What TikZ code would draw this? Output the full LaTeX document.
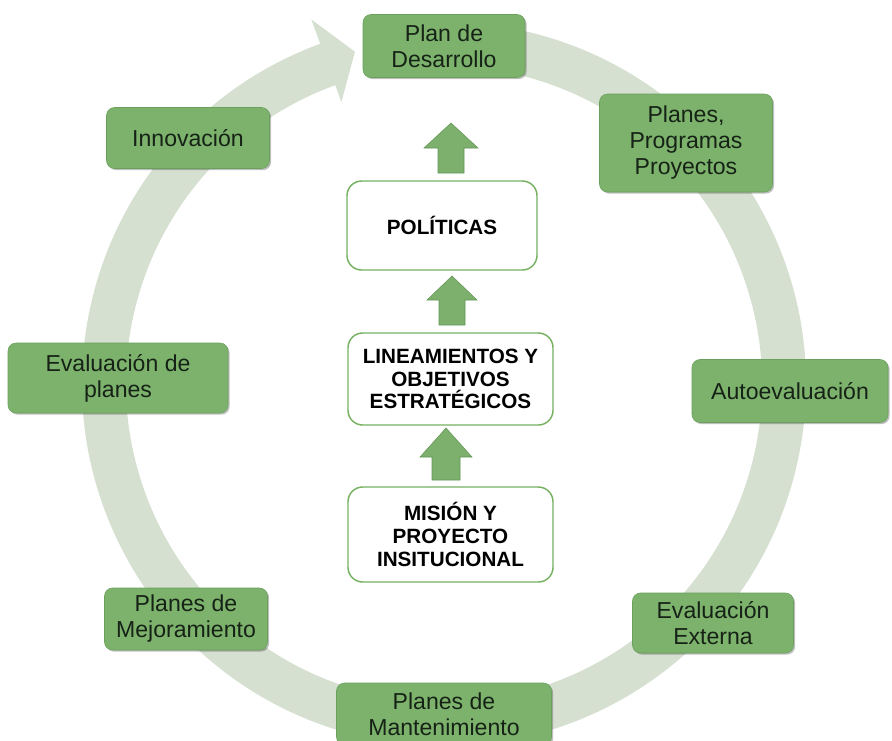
\documentclass[tikz,border=0pt]{standalone}
\usepackage{fontspec}
\setmainfont{Liberation Sans}
\usetikzlibrary{shadows}
\definecolor{boxgreen}{RGB}{124,178,108}
\definecolor{boxedge}{RGB}{106,160,92}
\definecolor{txtdark}{RGB}{22,34,22}
\definecolor{bandcol}{RGB}{214,224,209}
\definecolor{whiteedge}{RGB}{118,178,98}
\definecolor{arrowgreen}{RGB}{124,176,108}
\definecolor{arrowedge}{RGB}{100,150,88}
\begin{document}
\begin{tikzpicture}[x=0.75pt,y=-0.75pt,
  gbox/.style={draw=boxedge, line width=0.4pt, fill=boxgreen, rounded corners=6pt,
    inner sep=0pt, align=center, text=txtdark,
    font=\fontsize{17.3}{19.5}\selectfont,
    drop shadow={shadow xshift=1.2pt, shadow yshift=-1.2pt, opacity=0.25, fill=black}},
  wbox/.style={draw=whiteedge, line width=1.1pt, fill=white, rounded corners=11pt,
    inner sep=0pt, align=center, text=black,
    font=\fontsize{15.5}{17}\selectfont\bfseries},
  blockarrow/.style={fill=arrowgreen, draw=arrowedge, line width=0.4pt}
]
\useasboundingbox (0,0) rectangle (892,740);

% circular band arrow
\begin{scope}[shift={(444,384)}, x=0.75pt, y=0.75pt]
  \fill[bandcol] (78:362) arc[start angle=78, end angle=-250, radius=362]
    -- (-250:388) -- (-255:344) -- (-250:300) -- (-250:318)
    arc[start angle=-250, end angle=78, radius=318] -- cycle;
\end{scope}

% outer green boxes
\node[gbox, minimum width=121.5pt, minimum height=47.25pt] (pd) at (444,46) {Plan de\\Desarrollo};
\node[gbox, minimum width=129.75pt, minimum height=73.5pt] (ppp) at (686,143) {Planes,\\Programas\\Proyectos};
\node[gbox, minimum width=147pt, minimum height=47.25pt] (auto) at (790,391) {Autoevaluación};
\node[gbox, minimum width=120.75pt, minimum height=45pt] (ext) at (713,623) {Evaluación\\Externa};
\node[gbox, minimum width=161.25pt, minimum height=46.5pt] (mant) at (444,714) {Planes de\\Mantenimiento};
\node[gbox, minimum width=122.25pt, minimum height=46.5pt] (mej) at (186,619) {Planes de\\Mejoramiento};
\node[gbox, minimum width=165pt, minimum height=52.5pt] (evp) at (118,378) {Evaluación de\\planes};
\node[gbox, minimum width=122.25pt, minimum height=45.75pt] (inn) at (188,138) {Innovación};

% central white boxes
\node[wbox, minimum width=142.5pt, minimum height=66.75pt] (pol) at (442,225.5) {POLÍTICAS};
\node[wbox, minimum width=153.75pt, minimum height=69pt] (lin) at (450.5,379) {LINEAMIENTOS Y\\OBJETIVOS\\ESTRATÉGICOS};
\node[wbox, minimum width=153.75pt, minimum height=71.25pt] (mis) at (450.5,534.5) {MISIÓN Y\\PROYECTO\\INSITUCIONAL};

% block arrows
\draw[blockarrow] (438,173) -- (438,148) -- (424,148) -- (451,123) -- (478,148) -- (464,148) -- (464,173) -- cycle;
\draw[blockarrow] (439,325) -- (439,300) -- (427,300) -- (452,276) -- (477,300) -- (465,300) -- (465,325) -- cycle;
\draw[blockarrow] (432,480) -- (432,457) -- (420,457) -- (446,428) -- (472,457) -- (460,457) -- (460,480) -- cycle;
\end{tikzpicture}
\end{document}
